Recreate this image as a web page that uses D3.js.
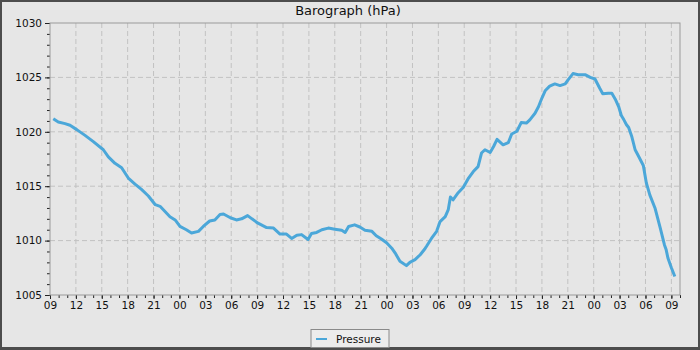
<!DOCTYPE html>
<html>
<head>
<meta charset="utf-8">
<script src="https://cdn.jsdelivr.net/npm/d3@7"></script>
<style>
  body { margin: 0; background: #e6e6e6; }
  svg { display: block; font-family: "DejaVu Sans", sans-serif; }
</style>
</head>
<body>
<div id="visualization"></div>
<script>

// hours since the first 09:00 and the pressure read at that time (hPa)
let hours = [0.38, 0.96, 1.74, 2.32, 3.1, 4.06, 5.02, 6.18, 6.76, 7.53, 8.3, 9.07, 9.85, 10.6,
  11.4, 12.2, 12.75, 13.3, 13.9, 14.5, 15.06, 15.8, 16.4, 17.2, 17.76, 18.5, 19.1, 19.7, 20.1,
  20.9, 21.6, 22.2, 22.9, 23.4, 24.1, 25.1, 25.9, 26.65, 27.4, 28.0, 28.6, 29.15, 29.9, 30.3,
  30.9, 31.5, 32.25, 33.0, 33.8, 34.2, 34.6, 35.3, 35.9, 36.5, 37.3, 37.8, 38.4, 39.0, 39.6,
  40.0, 40.55, 41.3, 41.7, 42.3, 42.9, 43.4, 43.65, 44.2, 44.8, 45.2, 45.8, 46.15, 46.4, 46.7,
  47.3, 47.9, 48.5, 49.05, 49.6, 50.0, 50.4, 51.0, 51.4, 51.8, 52.5, 53.1, 53.5, 54.1, 54.6,
  55.2, 55.6, 56.2, 56.6, 57.0, 57.4, 57.9, 58.5, 59.1, 59.7, 60.05, 60.6, 61.2, 62.0, 62.6,
  63.15, 63.7, 64.05, 64.7, 65.1, 65.5, 65.9, 66.2, 66.5, 66.8, 67.05, 67.4, 67.8, 68.2, 68.75,
  69.1, 69.5, 70.1, 70.7, 71.2, 71.4, 71.6, 72.0, 72.4];

let pressure = [1021.2, 1020.9, 1020.75, 1020.6, 1020.2, 1019.67, 1019.1, 1018.35, 1017.7, 1017.1,
  1016.7, 1015.75, 1015.2, 1014.7, 1014.1, 1013.3, 1013.15, 1012.7, 1012.2, 1011.9, 1011.3, 1011.0,
  1010.7, 1010.85, 1011.3, 1011.8, 1011.9, 1012.4, 1012.45, 1012.1, 1011.9, 1012.0, 1012.3, 1012.0,
  1011.6, 1011.2, 1011.15, 1010.6, 1010.6, 1010.2, 1010.5, 1010.55, 1010.1, 1010.65, 1010.75,
  1011.0, 1011.15, 1011.05, 1010.95, 1010.75, 1011.3, 1011.45, 1011.25, 1010.95, 1010.85, 1010.45,
  1010.15, 1009.8, 1009.3, 1008.85, 1008.1, 1007.7, 1008.0, 1008.25, 1008.7, 1009.2, 1009.5,
  1010.2, 1010.85, 1011.75, 1012.2, 1012.85, 1014.0, 1013.75, 1014.4, 1014.9, 1015.75, 1016.35,
  1016.8, 1018.05, 1018.35, 1018.1, 1018.65, 1019.3, 1018.8, 1019.0, 1019.8, 1020.05, 1020.85,
  1020.8, 1021.1, 1021.7, 1022.3, 1023.1, 1023.8, 1024.2, 1024.4, 1024.25, 1024.4, 1024.8,
  1025.35, 1025.25, 1025.25, 1025.0, 1024.85, 1024.0, 1023.5, 1023.55, 1023.55, 1023.0, 1022.3,
  1021.5, 1021.1, 1020.65, 1020.4, 1019.6, 1018.35, 1017.75, 1016.9, 1015.3, 1014.2, 1013.0,
  1011.2, 1009.6, 1009.15, 1008.4, 1007.5, 1006.7];

let yDomain = [1005, 1030];
let yLabels = [1005, 1010, 1015, 1020, 1025, 1030];
let spanHours = 73;
let title = "Barograph (hPa)";
let seriesName = "Pressure";

let startTime = new Date(2024, 0, 1, 9, 0);
let lineColor = "#4ba7d9";

function main() {

  var width = 700, height = 350;
  var margin = { top: 23, right: 20, bottom: 55, left: 50 };
  var plotW = width - margin.left - margin.right;
  var plotH = height - margin.top - margin.bottom;

  var svg = d3.select("#visualization").append("svg")
    .attr("width", width)
    .attr("height", height);

  // background and outer frame
  svg.append("rect")
    .attr("x", 1).attr("y", 1)
    .attr("width", width - 2).attr("height", height - 2)
    .attr("fill", "#e6e6e6")
    .attr("stroke", "#4d4d4d")
    .attr("stroke-width", 2);
  svg.append("line")
    .attr("x1", 0).attr("x2", width)
    .attr("y1", height - 1.5).attr("y2", height - 1.5)
    .attr("stroke", "#4d4d4d").attr("stroke-width", 3);

  var g = svg.append("g")
    .attr("transform", "translate(" + margin.left + "," + margin.top + ")");

  // scales
  var endTime = d3.timeHour.offset(startTime, spanHours);
  var x = d3.scaleTime().domain([startTime, endTime]).range([0, plotW]);
  var y = d3.scaleLinear().domain(yDomain).range([plotH, 0]);

  var data = hours.map(function (h, i) {
    return { time: new Date(startTime.getTime() + h * 3600000), value: pressure[i] };
  });

  var majorX = d3.timeHour.every(3).range(startTime, d3.timeHour.offset(endTime, 1));
  var minorX = d3.timeHour.every(1).range(startTime, d3.timeHour.offset(endTime, 1));
  var minorY = d3.range(yDomain[0], yDomain[1] + 1, 1);

  // grid
  g.selectAll(".vgrid")
    .data(majorX.filter(function (d) { return d > startTime; }))
    .enter().append("line")
    .attr("x1", function (d) { return x(d); })
    .attr("x2", function (d) { return x(d); })
    .attr("y1", 0).attr("y2", plotH)
    .attr("stroke", "#c2c2c2")
    .attr("stroke-dasharray", "5,3");

  g.selectAll(".hgrid")
    .data(yLabels.slice(1, -1))
    .enter().append("line")
    .attr("x1", 0).attr("x2", plotW)
    .attr("y1", function (d) { return y(d); })
    .attr("y2", function (d) { return y(d); })
    .attr("stroke", "#c2c2c2")
    .attr("stroke-dasharray", "5,3");

  // x axis: minor ticks every hour, labels every 3 hours
  g.append("g")
    .attr("transform", "translate(0," + plotH + ")")
    .call(d3.axisBottom(x).tickValues(minorX).tickSize(3).tickFormat(""))
    .call(function (a) { a.select(".domain").remove(); a.selectAll("line").attr("stroke", "#222"); });

  var xAxis = g.append("g")
    .attr("transform", "translate(0," + plotH + ")")
    .call(d3.axisBottom(x).tickValues(majorX).tickSize(4).tickPadding(3)
      .tickFormat(d3.timeFormat("%H")));
  xAxis.select(".domain").remove();
  xAxis.selectAll("line").attr("stroke", "#222");
  xAxis.selectAll("text").attr("fill", "#111").style("font-size", "10.5px")
    .style("font-family", "DejaVu Sans");

  // y axis: minor ticks every hPa, labels every 5
  g.append("g")
    .call(d3.axisLeft(y).tickValues(minorY).tickSize(3).tickFormat(""))
    .call(function (a) { a.select(".domain").remove(); a.selectAll("line").attr("stroke", "#222"); });

  var yAxis = g.append("g")
    .call(d3.axisLeft(y).tickValues(yLabels).tickSize(5).tickPadding(3).tickFormat(d3.format("d")));
  yAxis.select(".domain").remove();
  yAxis.selectAll("line").attr("stroke", "#222");
  yAxis.selectAll("text").attr("fill", "#111").style("font-size", "10.5px")
    .style("font-family", "DejaVu Sans");

  // plot frame
  g.append("rect")
    .attr("x", 0).attr("y", 0)
    .attr("width", plotW).attr("height", plotH)
    .attr("fill", "none")
    .attr("stroke", "#9a9a9a");

  // the pressure line
  var line = d3.line()
    .x(function (d) { return x(d.time); })
    .y(function (d) { return y(d.value); });

  g.append("path")
    .datum(data)
    .attr("fill", "none")
    .attr("stroke", lineColor)
    .attr("stroke-width", 3)
    .attr("stroke-linejoin", "round")
    .attr("d", line);

  // title
  svg.append("text")
    .attr("x", 348).attr("y", 15)
    .attr("text-anchor", "middle")
    .attr("fill", "#111")
    .style("font-size", "13px")
    .text(title);

  // legend
  var legend = svg.append("g").attr("transform", "translate(311,329.5)");
  legend.append("rect")
    .attr("width", 78).attr("height", 18)
    .attr("fill", "#ececec")
    .attr("stroke", "#8a8a8a");
  legend.append("line")
    .attr("x1", 5).attr("x2", 16)
    .attr("y1", 9.5).attr("y2", 9.5)
    .attr("stroke", lineColor).attr("stroke-width", 2);
  legend.append("text")
    .attr("x", 25).attr("y", 13)
    .attr("fill", "#111")
    .style("font-size", "10.5px")
    .text(seriesName);
}

main();
</script>
</body>
</html>
